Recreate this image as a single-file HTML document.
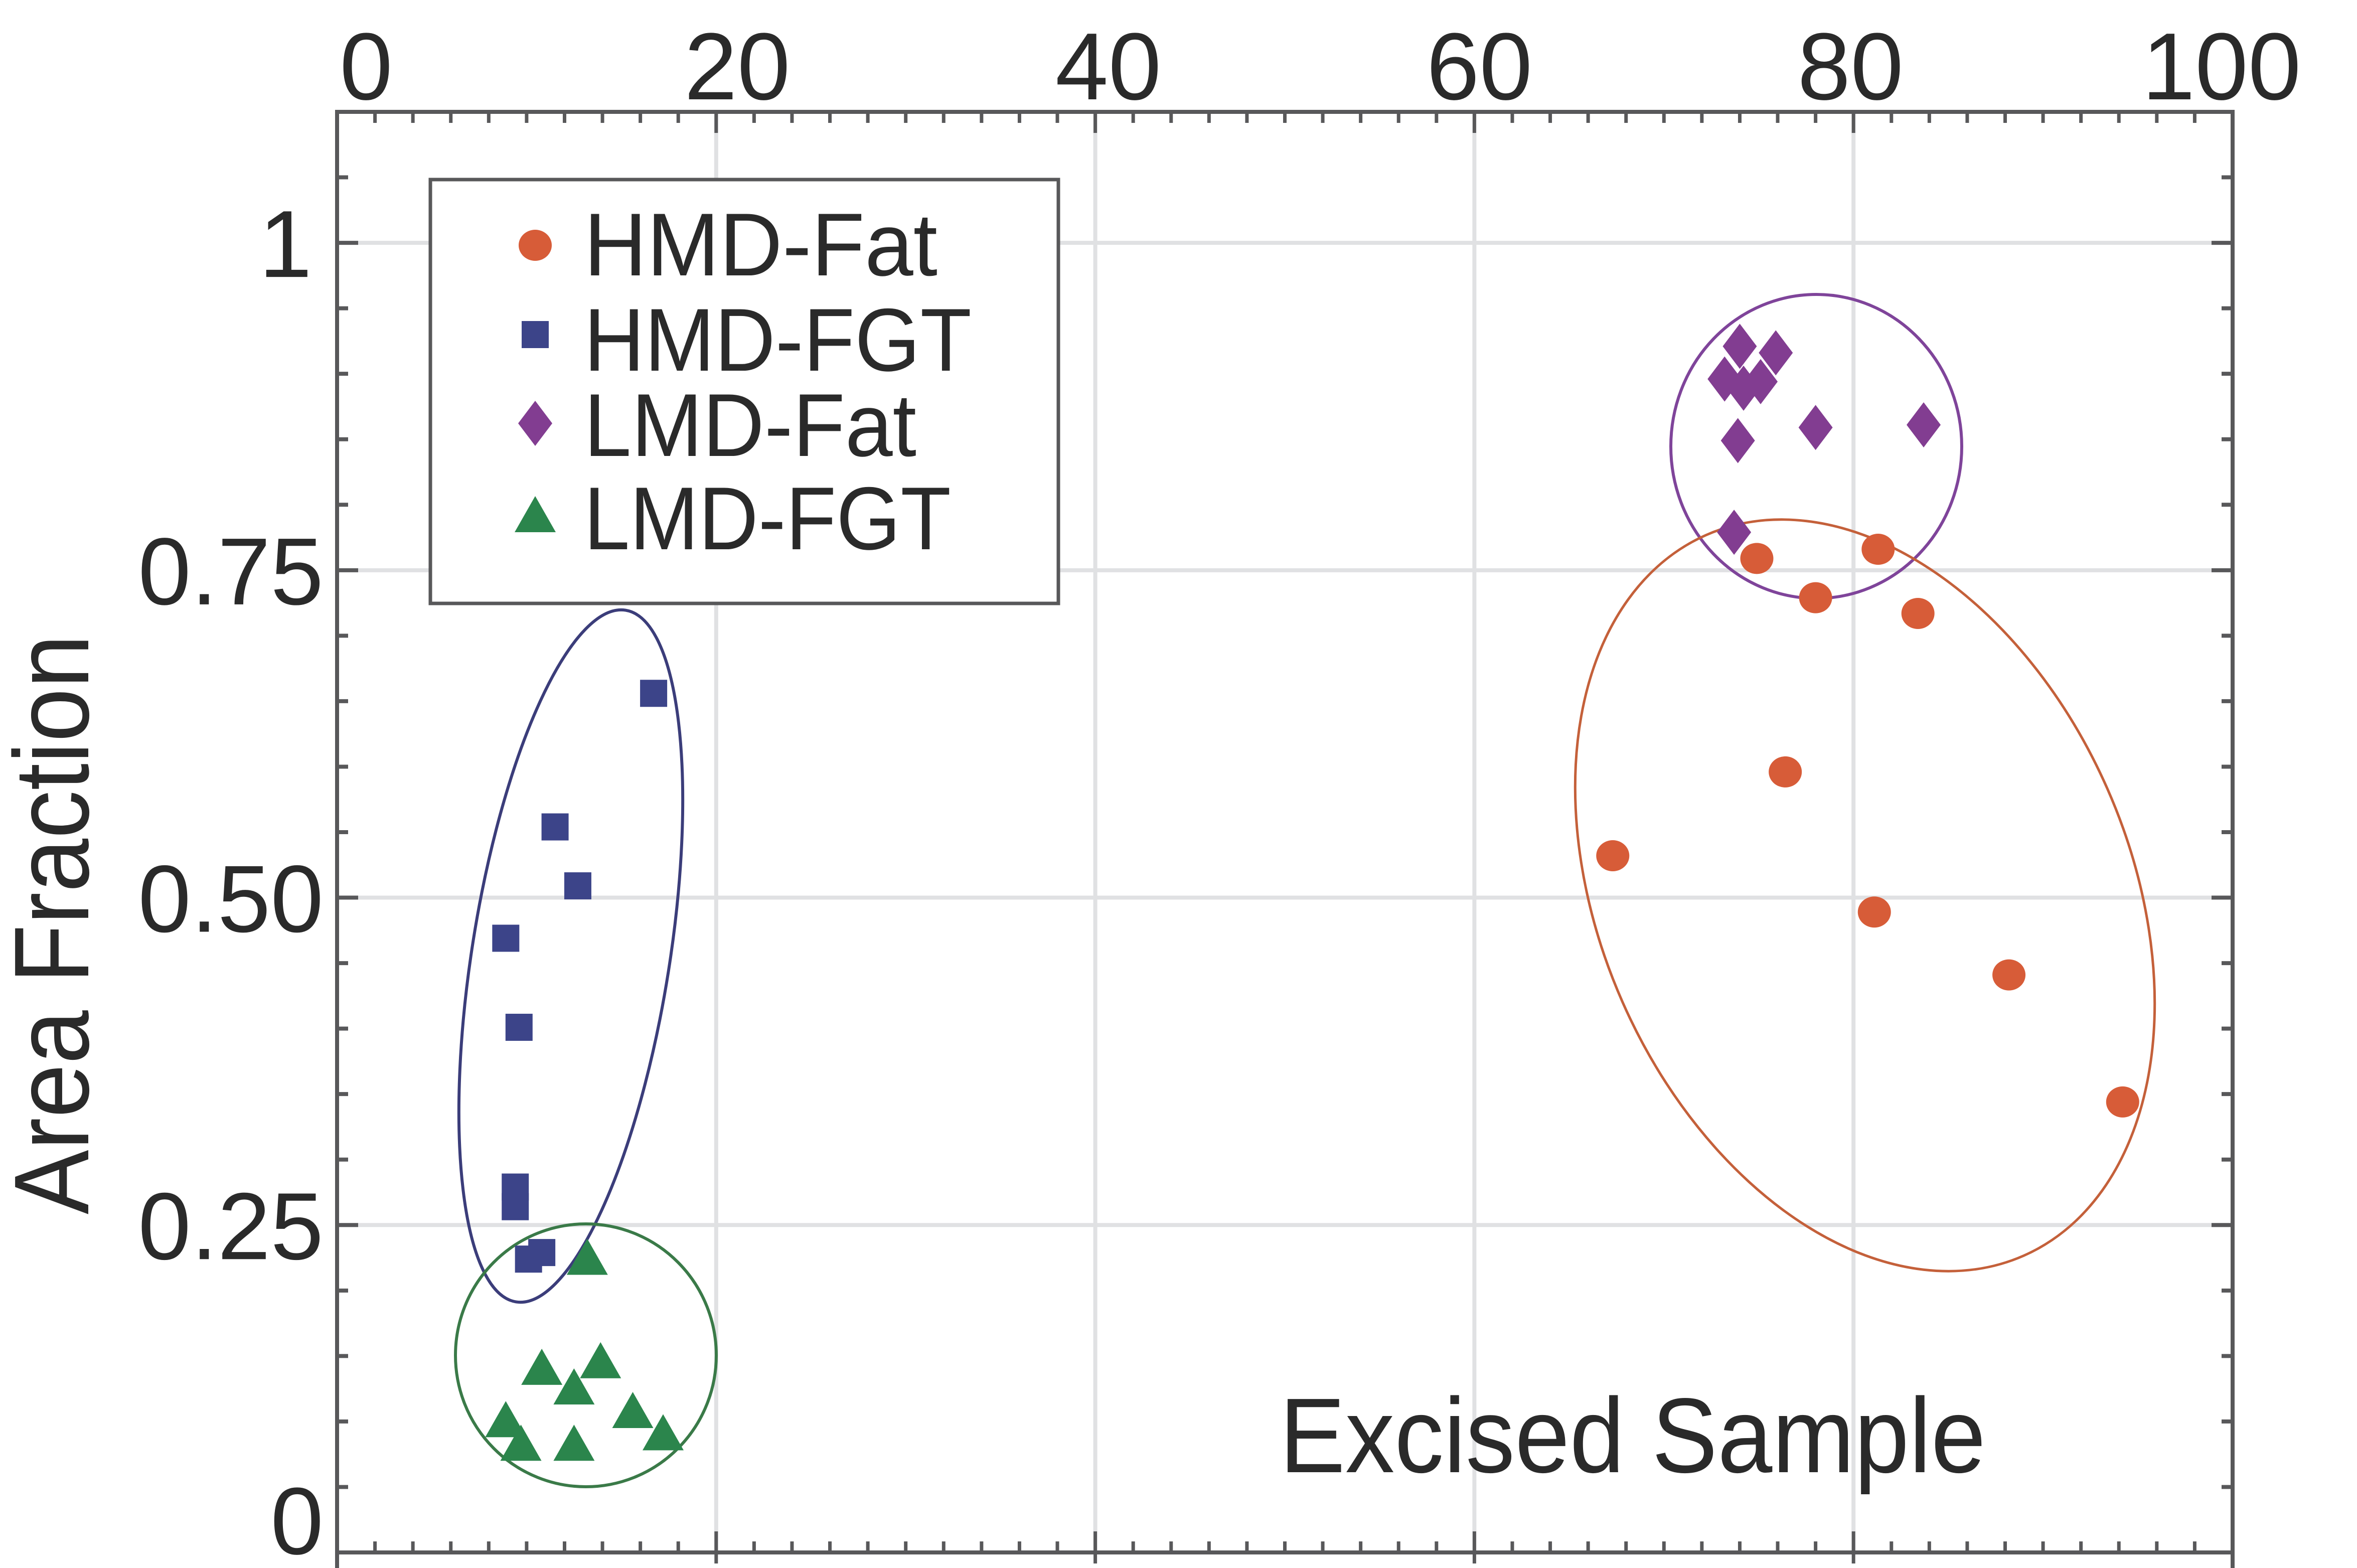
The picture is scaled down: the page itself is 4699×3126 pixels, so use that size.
<!DOCTYPE html>
<html><head><meta charset="utf-8"><title>Area Fraction scatter</title>
<style>html,body{margin:0;padding:0;background:#fff}svg{display:block}text{font-family:"Liberation Sans",sans-serif;fill:#2a2a2a}</style>
</head><body>
<svg id="chart" width="4699" height="3126" viewBox="0 0 4699 3126" xmlns="http://www.w3.org/2000/svg"></svg>
<script>
const xTickValues = [0, 20, 40, 60, 80, 100];
const xTickLabels = ["0", "20", "40", "60", "80", "100"];
const yTickValues = [0, 0.25, 0.5, 0.75, 1];
const yTickLabels = ["0", "0.25", "0.50", "0.75", "1"];
const hmdFatX = [74.9, 81.3, 78.0, 83.4, 76.4, 67.3, 81.1, 88.2, 94.2];
const hmdFatY = [0.759, 0.766, 0.729, 0.717, 0.596, 0.532, 0.489, 0.441, 0.344];
const hmdFgtX = [16.7, 11.5, 12.7, 8.9, 9.6, 9.4, 9.4, 10.1, 10.8];
const hmdFgtY = [0.656, 0.554, 0.509, 0.469, 0.401, 0.279, 0.264, 0.224, 0.229];
const lmdFatX = [74.0, 75.9, 73.2, 74.2, 75.1, 73.9, 78.0, 83.7, 73.7];
const lmdFatY = [0.921, 0.916, 0.896, 0.889, 0.894, 0.849, 0.859, 0.861, 0.779];
const lmdFgtX = [13.2, 10.8, 13.9, 12.5, 8.9, 15.6, 9.7, 12.5, 17.2];
const lmdFgtY = [0.225, 0.141, 0.146, 0.126, 0.101, 0.108, 0.083, 0.083, 0.091];
const legendLabels = ["HMD-Fat", "HMD-FGT", "LMD-Fat", "LMD-FGT"];

const NS = "http://www.w3.org/2000/svg";
const svg = document.getElementById("chart");
const L = 672, R = 4451, T = 223, B = 3095;
const xMin = 0, xMax = 100, yMin = 0, yMax = 1.1;
function sx(v){ return L + (v - xMin) / (xMax - xMin) * (R - L); }
function sy(v){ return B - (v - yMin) / (yMax - yMin) * (B - T); }
function mk(tag, attrs, parent){
  const e = document.createElementNS(NS, tag);
  for (const k in attrs) e.setAttribute(k, attrs[k]);
  (parent || svg).appendChild(e);
  return e;
}
const AX = "#58585a", GRID = "#e0e1e3";

// grid
const grid = mk("g", {});


xTickValues.forEach(v => { if (v > xMin && v < xMax) mk("line", {x1:sx(v), x2:sx(v), y1:T, y2:B, stroke:GRID, "stroke-width":8}, grid); });
yTickValues.forEach(v => { if (v > yMin) mk("line", {x1:L, x2:R, y1:sy(v), y2:sy(v), stroke:GRID, "stroke-width":8}, grid); });

// axes
const axes = mk("g", {});


mk("line", {x1:L-4, x2:R+4, y1:T, y2:T, stroke:AX, "stroke-width":8}, axes);
mk("line", {x1:L-4, x2:R+4, y1:B, y2:B, stroke:AX, "stroke-width":8}, axes);
mk("line", {x1:L, x2:L, y1:T-4, y2:3126, stroke:AX, "stroke-width":8}, axes);
mk("line", {x1:R, x2:R, y1:T-4, y2:3126, stroke:AX, "stroke-width":8}, axes);
for (let v = xMin + 2; v < xMax; v += 2) {
  const major = v % 20 === 0;
  const x = sx(v);
  mk("line", {x1:x, x2:x, y1:T, y2:T + (major ? 42 : 22), stroke:AX, "stroke-width":7}, axes);
  mk("line", {x1:x, x2:x, y1:B + (major ? 22 : 0), y2:B - (major ? 42 : 22), stroke:AX, "stroke-width":7}, axes);
}
for (let i = 1; i * 0.05 < yMax; i++) {
  const v = i * 0.05, major = i % 5 === 0, y = sy(v);
  mk("line", {x1:L, x2:L + (major ? 42 : 22), y1:y, y2:y, stroke:AX, "stroke-width":8}, axes);
  mk("line", {x1:R, x2:R - (major ? 42 : 22), y1:y, y2:y, stroke:AX, "stroke-width":8}, axes);
}

// tick labels
xTickValues.forEach((v, i) => {
  const t = mk("text", {x: 730 + (v - xMin) / (xMax - xMin) * 3699, y: 198, "font-size": 190, "text-anchor":"middle"});
  
  
  t.textContent = xTickLabels[i];
});
yTickValues.forEach((v, i) => {
  const cy = v === 0 ? 3030 : sy(v);
  const t = mk("text", {x: v === 1 ? 622 : 645, y: cy + 68, "font-size": 190, "text-anchor":"end"});
  
  
  t.textContent = yTickLabels[i];
});

// axis titles
const yt = mk("text", {x:0, y:0, "font-size":212, "text-anchor":"middle", textLength:1156, lengthAdjust:"spacingAndGlyphs", transform:"translate(176,1843) rotate(-90)"});


yt.textContent = "Area Fraction";
const xt = mk("text", {x:2551, y:2935, "font-size":212, textLength:1408, lengthAdjust:"spacingAndGlyphs"});


xt.textContent = "Excised Sample";

// cluster ellipses
const ellBlue = mk("ellipse", {cx:1138, cy:1906, rx:698, ry:197, transform:"rotate(-81 1138 1906)", fill:"none", stroke:"#3b3d7a", "stroke-width":6});


const ellGreen = mk("ellipse", {cx:1168, cy:2702, rx:260, ry:262, fill:"none", stroke:"#3a7a48", "stroke-width":6});


const ellPurple = mk("ellipse", {cx:3621, cy:890, rx:290, ry:303, fill:"none", stroke:"#7f449a", "stroke-width":6});


const ellOrange = mk("ellipse", {cx:3718, cy:1785, rx:785, ry:528, transform:"rotate(66.2 3718 1785)", fill:"none", stroke:"#c4603a", "stroke-width":5});



// markers
function circle(x, y, p, c){ return mk("ellipse", {cx:x, cy:y, rx:33, ry:31, fill:c}, p); }
function square(x, y, p, c){ return mk("rect", {x:x-27, y:y-27, width:54, height:54, fill:c}, p); }
function diamond(x, y, p, c){ return mk("polygon", {points:`${x},${y-45} ${x+34},${y} ${x},${y+45} ${x-34},${y}`, fill:c}, p); }
function triangle(x, y, p, c){ return mk("polygon", {points:`${x},${y-38} ${x+41},${y+34} ${x-41},${y+34}`, fill:c}, p); }

const series = [
  {name:"hmd-fat", xs:hmdFatX, ys:hmdFatY, f:circle, c:"#d75c38"},
  {name:"hmd-fgt", xs:hmdFgtX, ys:hmdFgtY, f:square, c:"#3c4489"},
  {name:"lmd-fat", xs:lmdFatX, ys:lmdFatY, f:diamond, c:"#823d91"},
  {name:"lmd-fgt", xs:lmdFgtX, ys:lmdFgtY, f:triangle, c:"#2b854c"}
];
series.forEach(s => {
  const g = mk("g", {});
  
  
  s.xs.forEach((xv, i) => {
    const m = s.f(sx(xv), sy(s.ys[i]), g, s.c);
    
    
  });
});

// legend
const lg = mk("g", {});


mk("rect", {x:858, y:358, width:1252, height:845, fill:"#fff", stroke:AX, "stroke-width":7}, lg);
const legY = [489, 667, 844, 1027];
const legBase = [549, 739, 909, 1095];
const legW = [705, 773, 663, 732];
series.forEach((s, i) => {
  const e = mk("g", {}, lg);
  
  
  s.f(1067, legY[i], e, s.c);
  const t = mk("text", {x:1164, y:legBase[i], "font-size":178, textLength:legW[i], lengthAdjust:"spacingAndGlyphs"}, e);
  t.textContent = legendLabels[i];
});
</script>
</body></html>
